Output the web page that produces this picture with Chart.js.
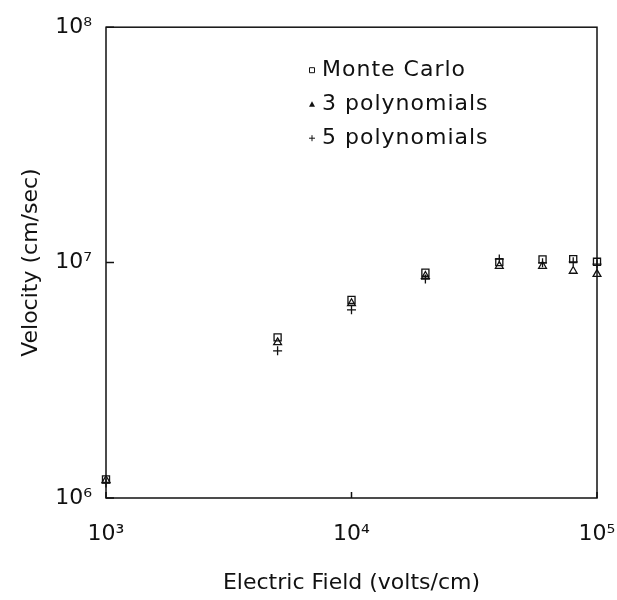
<!doctype html>
<html>
	<head>
		<meta charset="utf-8" />
		<title>Velocity vs Electric Field</title>
		<style>
			html	{ height: 100% }
			body	{ height: 100%; margin: 0; padding: 0; background: #fff }
			canvas	{ display: block; }
		</style>
		<script src="https://cdn.jsdelivr.net/npm/chart.js"></script>
	</head>
	<body>
		<canvas id="canvas" width="617" height="600"></canvas>
		<script>

			// electric field (volts/cm)
			var fields = [1000, 5000, 10000, 20000, 40000, 60000, 80000, 100000];

			// velocity (cm/sec)
			var monteCarlo   = [1.20e6, 4.81e6, 6.94e6, 9.06e6, 1.005e7, 1.032e7, 1.035e7, 1.008e7];
			var poly3        = [1.19e6, 4.58e6, 6.72e6, 8.77e6, 9.67e6, 9.67e6, 9.21e6, 8.94e6];
			var poly5        = [1.157e6, 4.22e6, 6.30e6, 8.51e6, 1.035e7, 9.98e6, 1.008e7, 9.86e6];

			var seriesNames  = ['Monte Carlo', '3 polynomials', '5 polynomials'];

			var xTicks = [1e3, 1e4, 1e5];
			var yTicks = [1e6, 1e7, 1e8];

			var sup = ['\u2070', '\u00b9', '\u00b2', '\u00b3', '\u2074', '\u2075', '\u2076', '\u2077', '\u2078', '\u2079'];

			function decadeLabel(v) {
				var e = Math.round(Math.log10(v));
				return '10' + String(e).split('').map(function (d) { return sup[+d]; }).join('');
			}

			function points(ys) {
				return fields.map(function (x, i) { return { x: x, y: ys[i] }; });
			}

			var FONT = 'DejaVu Sans';
			var INK = '#111';

			// box round the plot with inward ticks
			var frame = {
				id: 'frame',
				afterDraw: function (chart) {
					var ctx = chart.ctx, a = chart.chartArea;
					var sx = chart.scales.x, sy = chart.scales.y;
					ctx.save();
					ctx.strokeStyle = INK;
					ctx.lineWidth = 1.5;
					ctx.strokeRect(a.left, a.top, a.right - a.left, a.bottom - a.top);
					ctx.beginPath();
					xTicks.forEach(function (v) {
						var px = sx.getPixelForValue(v);
						ctx.moveTo(px, a.bottom);
						ctx.lineTo(px, a.bottom - 6);
					});
					yTicks.forEach(function (v) {
						var py = sy.getPixelForValue(v);
						ctx.moveTo(a.left, py);
						ctx.lineTo(a.left + 8, py);
					});
					ctx.stroke();
					ctx.restore();
				}
			};

			// legend inside the plot, upper middle
			var legendBox = {
				id: 'legendBox',
				afterDraw: function (chart) {
					var ctx = chart.ctx, a = chart.chartArea;
					var mx = a.left + 206, tx = a.left + 216;
					ctx.save();
					ctx.strokeStyle = INK;
					ctx.fillStyle = INK;
					ctx.lineWidth = 1;
					ctx.font = '22px "' + FONT + '"';
					ctx.textBaseline = 'middle';
					ctx.letterSpacing = '1px';
					seriesNames.forEach(function (name, i) {
						var y = a.top + 43 + i * 34;
						ctx.beginPath();
						if (i === 0) {
							ctx.rect(mx - 2.5, y - 2.5, 5, 5);
							ctx.stroke();
						} else if (i === 1) {
							ctx.moveTo(mx, y - 3);
							ctx.lineTo(mx + 3, y + 2.5);
							ctx.lineTo(mx - 3, y + 2.5);
							ctx.closePath();
							ctx.fill();
						} else {
							ctx.moveTo(mx - 3, y);
							ctx.lineTo(mx + 3, y);
							ctx.moveTo(mx, y - 3);
							ctx.lineTo(mx, y + 3);
							ctx.stroke();
						}
						ctx.fillText(name, tx, y);
					});
					ctx.restore();
				}
			};

			var common = {
				showLine: false,
				clip: false,
				borderColor: INK,
				backgroundColor: 'rgba(255,255,255,0)',
				borderWidth: 1.3
			};

			var datasets = [
				Object.assign({ label: seriesNames[0], data: points(monteCarlo), pointStyle: 'rect', pointRadius: 5 }, common),
				Object.assign({ label: seriesNames[1], data: points(poly3), pointStyle: 'triangle', pointRadius: 4.5 }, common),
				Object.assign({ label: seriesNames[2], data: points(poly5), pointStyle: 'cross', pointRadius: 4.5 }, common)
			];

			new Chart(document.getElementById('canvas').getContext('2d'), {
				type: 'scatter',
				data: { datasets: datasets },
				options: {
					responsive: false,
					animation: false,
					events: [],
					layout: { padding: { left: 0, right: 0, top: 25, bottom: 0 } },
					plugins: {
						legend: { display: false },
						tooltip: { enabled: false }
					},
					scales: {
						x: {
							type: 'logarithmic',
							position: 'bottom',
							min: xTicks[0],
							max: xTicks[xTicks.length - 1],
							grid: { display: false, drawTicks: false },
							border: { display: false },
							afterBuildTicks: function (s) { s.ticks = xTicks.map(function (v) { return { value: v, major: true }; }); },
							afterFit: function (s) { s.height = 102; s.paddingRight = 20; },
							ticks: {
								color: INK,
								padding: 23,
								font: { family: FONT, size: 22 },
								autoSkip: false,
								maxRotation: 0,
								callback: function (v) { return decadeLabel(v); }
							},
							title: {
								display: true,
								text: 'Electric Field (volts/cm)',
								color: INK,
								font: { family: FONT, size: 22 },
								padding: { top: 0, bottom: 4 }
							}
						},
						y: {
							type: 'logarithmic',
							position: 'left',
							min: yTicks[0],
							max: yTicks[yTicks.length - 1],
							grid: { display: false, drawTicks: false },
							border: { display: false },
							afterBuildTicks: function (s) { s.ticks = yTicks.map(function (v) { return { value: v, major: true }; }); },
							afterFit: function (s) { s.width = 106; },
							ticks: {
								color: INK,
								padding: 14,
								font: { family: FONT, size: 22 },
								autoSkip: false,
								callback: function (v) { return decadeLabel(v); }
							},
							title: {
								display: true,
								text: 'Velocity (cm/sec)',
								color: INK,
								font: { family: FONT, size: 22 },
								padding: { top: 18, bottom: 0 }
							}
						}
					}
				},
				plugins: [frame, legendBox]
			});

		</script>
	</body>
</html>
